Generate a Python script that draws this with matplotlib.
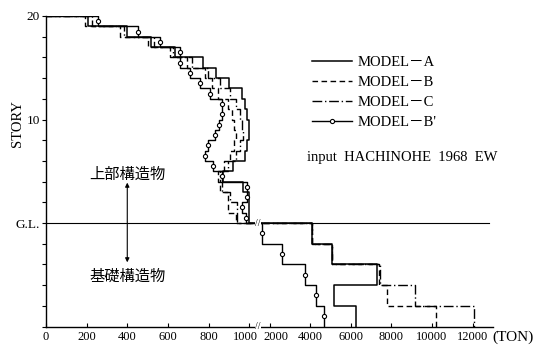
import numpy as np
import matplotlib.pyplot as plt
from matplotlib.transforms import offset_copy

plt.rcParams['font.family'] = ['Liberation Serif', 'Noto Sans CJK JP', 'DejaVu Sans']

# upper structure: stories 20 -> 1, basement: 5 levels of 2 units each
stories = list(range(20, 0, -1))
base_top = [0, -2, -4, -6, -8]
base_bot = [-2, -4, -6, -8, -10]

# story shear (ton), story 20 -> 1
shear_a = [205, 400, 515, 635, 775, 835, 900, 965, 980, 990,
           1000, 1000, 990, 980, 920, 870, 970, 1000, 1000, 1000]
shear_b = [192, 365, 502, 611, 695, 783, 818, 847, 897, 916,
           926, 936, 926, 906, 877, 847, 857, 897, 897, 936]
shear_c = [227, 384, 532, 626, 719, 798, 857, 906, 936, 956,
           966, 970, 956, 936, 897, 857, 867, 906, 941, 941]
shear_bp = [256, 453, 562, 660, 660, 709, 759, 808, 867, 867,
            852, 833, 798, 783, 823, 867, 990, 990, 966, 985]

# basement shear (ton), G.L. -> bottom
base_a = [4090, 5080, 7290, 5190, 6270]
base_b = [4090, 5080, 7370, 7800, 10200]
base_c = [4090, 5080, 7450, 9180, 12050]
base_bp = [1640, 2610, 3760, 4290, 4700]

xticks = [0, 200, 400, 600, 800, 1000, 2000, 4000, 6000, 8000, 10000, 12000]
# labels at the axis break are drawn separately, nudged apart
break_labels = {1000: -4, 2000: 6}


def fwd(x):
    x = np.asarray(x, dtype=float)
    return np.where(x <= 1000, x, 1000 + (x - 1000) / 10)


def inv(x):
    x = np.asarray(x, dtype=float)
    return np.where(x <= 1000, x, 1000 + (x - 1000) * 10)


def profile(upper, base):
    vals = np.array(upper + base, dtype=float)
    tops = np.array(stories + base_top, dtype=float)
    bots = np.array([s - 1 for s in stories] + base_bot, dtype=float)
    mids = (tops + bots) / 2
    x = np.concatenate([[0], np.repeat(vals, 3)])
    y = np.concatenate([[tops[0]], np.column_stack([tops, mids, bots]).ravel()])
    return x, y


fig = plt.figure(figsize=(5.44, 3.46), dpi=100)
ax = fig.add_axes([46 / 544, 1 - 326.5 / 346, 447 / 544, 310.5 / 346])
ax.set_xscale('function', functions=(fwd, inv))

x, y = profile(shear_a, base_a)
ax.plot(x, y, color='black', lw=1.1, label='MODEL－A')
x, y = profile(shear_c, base_c)
ax.plot(x, y, color='black', lw=1.0, ls=(0, (7, 2, 1, 2)), label='MODEL－C')
x, y = profile(shear_b, base_b)
ax.plot(x, y, color='black', lw=1.0, ls=(0, (4, 2.5)), label='MODEL－B')
x, y = profile(shear_bp, base_bp)
ax.plot(x, y, color='black', lw=1.0, marker='o', ms=3, mfc='white', mec='black',
        mew=0.8, markevery=list(range(2, len(x), 3)), label="MODEL－B'")

# ground level line
ax.axhline(0, xmax=0.99, color='black', lw=0.8)

ax.set_xlim(0, 13000)
ax.set_ylim(-10, 20)
ax.spines['top'].set_visible(False)
ax.spines['right'].set_visible(False)
ax.spines['left'].set_linewidth(1.0)
ax.spines['bottom'].set_linewidth(1.0)

ax.set_xticks(xticks)
ax.set_xticklabels(['' if t in break_labels else str(t) for t in xticks], fontsize=9)
ax.xaxis.set_minor_locator(plt.NullLocator())
ax.tick_params(axis='x', direction='in', length=3, width=0.8, pad=3.5)
for t, dx in break_labels.items():
    tr = offset_copy(ax.get_xaxis_transform(), fig=fig, x=dx, y=-5, units='dots')
    ax.text(t, 0, str(t), transform=tr, ha='center', va='top', fontsize=9)

yt = list(range(-10, 21, 2))
ax.set_yticks(yt)
ax.set_yticklabels(['G.L.' if t == 0 else (str(t) if t in (10, 20) else '') for t in yt],
                   fontsize=9.5)
ax.tick_params(axis='y', direction='out', length=3, width=0.8, pad=1.5)

# axis break marks
for yy in (0, -10):
    ax.text(1420, yy, '//', fontsize=7, ha='center', va='center',
            bbox=dict(facecolor='white', edgecolor='none', pad=0.3))

fig.text(18 / 544, 1 - 124 / 346, 'STORY', rotation=90, ha='center', va='center', fontsize=10.5)
fig.text(492 / 544, 1 - 337 / 346, '(TON)', ha='left', va='center', fontsize=11)

# legend order as in the reference
handles, labels = ax.get_legend_handles_labels()
order = [0, 2, 1, 3]
ax.legend([handles[i] for i in order], [labels[i] for i in order],
          loc='upper left', bbox_to_anchor=(312 / 544, 1 - 56 / 346),
          bbox_transform=fig.transFigure, frameon=False, fontsize=10.5,
          handlelength=2.75, handletextpad=0.4, labelspacing=0.47,
          borderpad=0, borderaxespad=0, numpoints=1)

fig.text(307 / 544, 1 - 157 / 346, 'input  HACHINOHE  1968  EW', ha='left', va='center', fontsize=10.5)

ax.text(400, 4.7, '上部構造物', family=['Noto Sans CJK JP'], ha='center', va='center', fontsize=11)
ax.text(400, -5.1, '基礎構造物', family=['Noto Sans CJK JP'], ha='center', va='center', fontsize=11)
ax.annotate('', xy=(400, 3.9), xytext=(400, -3.8),
            arrowprops=dict(arrowstyle='<|-|>', color='black', lw=0.8,
                            mutation_scale=6, shrinkA=0, shrinkB=0))

fig.savefig('out.png', dpi=100, facecolor='white')
